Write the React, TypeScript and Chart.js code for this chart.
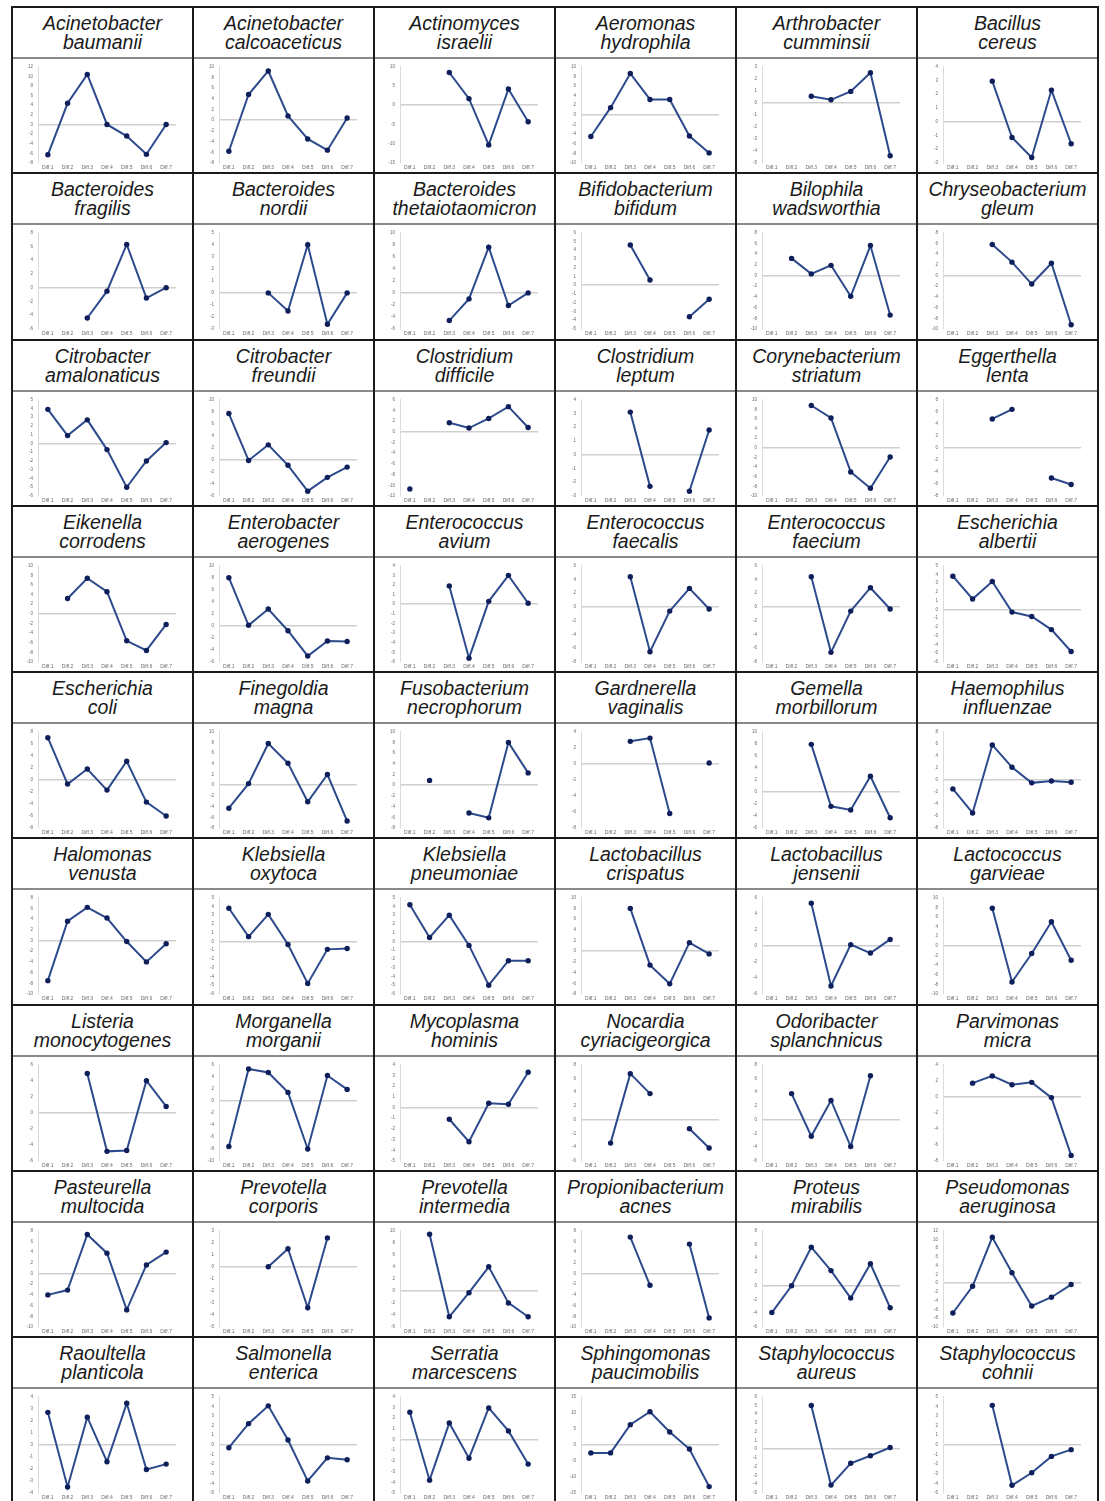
import React, { useEffect, useRef } from 'react';
import { Chart, registerables } from 'chart.js';

Chart.register(...registerables);

const categories = ['Diff.1', 'Diff.2', 'Diff.3', 'Diff.4', 'Diff.5', 'Diff.6', 'Diff.7'];

const genusNames = [
  'Acinetobacter', 'Acinetobacter', 'Actinomyces', 'Aeromonas', 'Arthrobacter', 'Bacillus',
  'Bacteroides', 'Bacteroides', 'Bacteroides', 'Bifidobacterium', 'Bilophila', 'Chryseobacterium',
  'Citrobacter', 'Citrobacter', 'Clostridium', 'Clostridium', 'Corynebacterium', 'Eggerthella',
  'Eikenella', 'Enterobacter', 'Enterococcus', 'Enterococcus', 'Enterococcus', 'Escherichia',
  'Escherichia', 'Finegoldia', 'Fusobacterium', 'Gardnerella', 'Gemella', 'Haemophilus',
  'Halomonas', 'Klebsiella', 'Klebsiella', 'Lactobacillus', 'Lactobacillus', 'Lactococcus',
  'Listeria', 'Morganella', 'Mycoplasma', 'Nocardia', 'Odoribacter', 'Parvimonas',
  'Pasteurella', 'Prevotella', 'Prevotella', 'Propionibacterium', 'Proteus', 'Pseudomonas',
  'Raoultella', 'Salmonella', 'Serratia', 'Sphingomonas', 'Staphylococcus', 'Staphylococcus',
];

const speciesNames = [
  'baumanii', 'calcoaceticus', 'israelii', 'hydrophila', 'cumminsii', 'cereus',
  'fragilis', 'nordii', 'thetaiotaomicron', 'bifidum', 'wadsworthia', 'gleum',
  'amalonaticus', 'freundii', 'difficile', 'leptum', 'striatum', 'lenta',
  'corrodens', 'aerogenes', 'avium', 'faecalis', 'faecium', 'albertii',
  'coli', 'magna', 'necrophorum', 'vaginalis', 'morbillorum', 'influenzae',
  'venusta', 'oxytoca', 'pneumoniae', 'crispatus', 'jensenii', 'garvieae',
  'monocytogenes', 'morganii', 'hominis', 'cyriacigeorgica', 'splanchnicus', 'micra',
  'multocida', 'corporis', 'intermedia', 'acnes', 'mirabilis', 'aeruginosa',
  'planticola', 'enterica', 'marcescens', 'paucimobilis', 'aureus', 'cohnii',
];

const seriesValues: (number | null)[][] = [
  [-6.3, 4.4, 10.4, 0, -2.4, -6.2, 0],
  [-5.8, 4.8, 9.2, 0.8, -3.5, -5.6, 0.4],
  [null, null, 8.5, 1.7, -10.3, 4.2, -4.3],
  [-4.5, 1.5, 8.6, 3.2, 3.2, -4.4, -7.9],
  [null, null, 0.55, 0.25, 0.95, 2.5, -4.4],
  [null, null, 2.95, -1.15, -2.6, 2.3, -1.6],
  [null, null, -4.4, -0.5, 6.3, -1.5, 0],
  [null, null, 0, -1.5, 4.0, -2.6, 0],
  [null, null, -4.6, -1.0, 7.6, -2.1, 0],
  [null, null, 4.6, 0.6, null, -3.6, -1.6],
  [null, 3.2, 0.3, 1.9, -3.9, 5.6, -7.4],
  [null, null, 5.8, 2.5, -1.6, 2.3, -9.2],
  [3.9, 0.9, 2.7, -0.7, -5.0, -2.0, 0.1],
  [7.7, -0.1, 2.5, -0.9, -5.2, -2.9, -1.2],
  [-10.7, null, 1.7, 0.7, 2.5, 4.7, 0.8],
  [null, null, 3.1, -2.3, null, -2.65, 1.8],
  [null, null, 8.8, 6.2, -5.0, -8.4, -1.9],
  [null, null, 4.8, 6.4, null, -5.0, -6.1],
  [null, 3.2, 7.4, 4.6, -5.6, -7.6, -2.2],
  [8.0, 0.1, 2.8, -0.8, -5.0, -2.5, -2.6],
  [null, null, 1.9, -5.6, 0.3, 3.0, 0.1],
  [null, null, 4.4, -6.5, -0.6, 2.7, -0.3],
  [null, null, 4.4, -6.6, -0.6, 2.8, -0.3],
  [3.8, 1.2, 3.2, -0.3, -0.8, -2.3, -4.8],
  [7.0, -0.7, 1.8, -1.7, 3.1, -3.7, -6.0],
  [-4.3, 0.3, 7.8, 4.1, -3.1, 2.0, -6.7],
  [null, 0.9, null, -5.2, -6.1, 8.0, 2.3],
  [null, null, 2.8, 3.2, -6.2, null, 0.1],
  [null, null, 7.9, -2.4, -3.0, 2.6, -4.3],
  [-1.5, -5.5, 5.8, 2.1, -0.5, -0.2, -0.4],
  [-7.5, 3.6, 6.2, 4.2, -0.2, -4.0, -0.6],
  [3.8, 0.55, 3.1, -0.35, -4.8, -0.9, -0.8],
  [4.2, 0.45, 3.0, -0.45, -5.0, -2.2, -2.2],
  [null, null, 8.0, -2.6, -6.1, 1.6, -0.5],
  [null, null, 5.3, -5.0, 0.15, -0.9, 0.8],
  [null, null, 7.8, -7.5, -1.6, 5.0, -3.0],
  [null, null, 4.9, -4.8, -4.7, 4.0, 0.8],
  [-7.6, 5.3, 4.7, 1.4, -8.0, 4.2, 1.9],
  [null, null, -1.1, -3.2, 0.4, 0.3, 3.3],
  [null, -3.4, 6.7, 3.8, null, -1.3, -4.1],
  [null, 3.8, -2.4, 2.8, -3.9, 6.4, null],
  [null, 1.7, 2.6, 1.5, 1.8, -0.1, -7.3],
  [-4.0, -3.1, 7.3, 3.8, -6.8, 1.6, 4.0],
  [null, null, 0, 1.5, -3.4, 2.4, null],
  [null, 9.4, -4.3, -0.3, 4.0, -2.0, -4.3],
  [null, null, 6.8, -2.2, null, 5.5, -8.3],
  [-3.9, 0, 5.6, 2.2, -1.8, 3.2, -3.2],
  [-6.8, -0.7, 10.5, 2.4, -5.2, -3.2, -0.3],
  [2.7, -3.5, 2.3, -1.4, 3.45, -2.05, -1.6],
  [-0.3, 2.2, 4.05, 0.5, -3.75, -1.35, -1.55],
  [2.55, -3.8, 1.55, -1.75, 2.95, 0.8, -2.3],
  [-2.5, -2.5, 6.3, 10.3, 4.0, -1.3, -13],
  [null, null, 5.0, -4.1, -1.6, -0.75, 0.2],
  [null, null, 4.1, -4.2, -2.9, -1.2, -0.5],
];

const yMins = [
  -8, -8, -15, -10, -5, -3,
  -6, -3, -6, -5, -10, -10,
  -6, -6, -12, -3, -10, -8,
  -10, -6, -6, -8, -8, -6,
  -8, -8, -8, -8, -6, -8,
  -10, -6, -6, -8, -6, -10,
  -6, -10, -5, -6, -6, -8,
  -10, -5, -6, -10, -6, -10,
  -4, -5, -5, -15, -5, -5,
];

const yMaxs = [
  12, 10, 10, 10, 3, 4,
  8, 5, 10, 6, 8, 8,
  5, 10, 6, 4, 10, 8,
  10, 10, 4, 6, 6, 5,
  8, 10, 10, 4, 10, 8,
  8, 5, 5, 10, 6, 10,
  6, 6, 4, 8, 8, 4,
  8, 3, 10, 8, 8, 12,
  4, 5, 4, 15, 6, 5,
];

const ySteps = [
  2, 2, 5, 2, 1, 1,
  2, 1, 2, 1, 2, 2,
  1, 2, 2, 1, 2, 2,
  2, 2, 1, 2, 2, 1,
  2, 2, 2, 2, 2, 2,
  2, 1, 1, 2, 2, 2,
  2, 2, 1, 2, 2, 2,
  2, 1, 2, 2, 2, 2,
  1, 1, 1, 5, 1, 1,
];

const COLS = 6;
const ROWS = 9;
const GRID_LEFT = 12;
const GRID_TOP = 7;
const COL_W = 181;
const ROW_H = 166.25;
const TITLE_H = 51;
const CANVAS_W = 179;
const CANVAS_H = 114;

const LINE_COLOR = '#2c4a8c';
const POINT_COLOR = '#0e1f5b';
const FONT = '"Liberation Sans", Arial, sans-serif';

function MiniChart({ index }: { index: number }) {
  const ref = useRef<HTMLCanvasElement | null>(null);
  useEffect(() => {
    if (!ref.current) return;
    const chart = new Chart(ref.current, {
      type: 'line',
      data: {
        labels: categories,
        datasets: [
          {
            data: seriesValues[index],
            borderColor: LINE_COLOR,
            borderWidth: 2,
            pointRadius: 2.7,
            pointBackgroundColor: POINT_COLOR,
            pointBorderColor: POINT_COLOR,
            pointBorderWidth: 0,
            spanGaps: false,
            tension: 0,
          },
        ],
      },
      options: {
        animation: false,
        responsive: false,
        devicePixelRatio: 1,
        layout: { padding: { top: 5, right: 16, left: 0, bottom: 0 } },
        plugins: { legend: { display: false }, tooltip: { enabled: false } },
        scales: {
          x: {
            offset: true,
            grid: { display: false, drawTicks: false },
            border: { display: false },
            ticks: {
              display: true,
              autoSkip: false,
              maxRotation: 0,
              minRotation: 0,
              padding: 2,
              color: '#6a6a6a',
              font: { size: 5, family: FONT },
            },
          },
          y: {
            min: yMins[index],
            max: yMaxs[index],
            grid: {
              drawTicks: false,
              lineWidth: 1.5,
              color: (ctx: any) =>
                ctx.tick && ctx.tick.value === 0 ? '#cfcfcf' : 'rgba(0,0,0,0)',
            },
            border: { display: true, color: '#dcdcdc', width: 1 },
            ticks: {
              stepSize: ySteps[index],
              padding: 5,
              color: '#6a6a6a',
              font: { size: 4.5, family: FONT },
            },
            afterFit: (scale: any) => {
              scale.width = 25;
            },
          },
        },
      } as any,
    });
    return () => chart.destroy();
  }, [index]);
  return <canvas ref={ref} width={CANVAS_W} height={CANVAS_H} style={{ display: 'block', width: CANVAS_W, height: CANVAS_H }} />;
}

export default function App() {
  const cells: React.ReactNode[] = [];
  const lines: React.ReactNode[] = [];

  for (let r = 0; r < ROWS; r++) {
    const rowTop = GRID_TOP + r * ROW_H;
    const sepY = rowTop + TITLE_H;
    for (let c = 0; c < COLS; c++) {
      const idx = r * COLS + c;
      const left = GRID_LEFT + c * COL_W;
      cells.push(
        <div
          key={'t' + idx}
          style={{
            position: 'absolute',
            left,
            top: Math.round(rowTop),
            width: COL_W,
            height: TITLE_H,
            display: 'flex',
            flexDirection: 'column',
            alignItems: 'center',
            justifyContent: 'center',
            fontFamily: FONT,
            fontStyle: 'italic',
            fontSize: '19.5px',
            lineHeight: '19px',
            color: '#1a1a1a',
            textAlign: 'center',
          }}
        >
          <div>{genusNames[idx]}</div>
          <div>{speciesNames[idx]}</div>
        </div>
      );
      cells.push(
        <div
          key={'c' + idx}
          style={{
            position: 'absolute',
            left: left + 1,
            top: Math.round(sepY + 1),
            width: CANVAS_W,
            height: CANVAS_H,
          }}
        >
          <MiniChart index={idx} />
        </div>
      );
    }
    lines.push(
      <div
        key={'hb' + r}
        style={{ position: 'absolute', left: GRID_LEFT - 1, top: Math.round(rowTop) - 1, width: COLS * COL_W + 2, height: 2, background: '#1a1a1a' }}
      />
    );
    lines.push(
      <div
        key={'hs' + r}
        style={{ position: 'absolute', left: GRID_LEFT, top: Math.round(sepY) - 1, width: COLS * COL_W, height: 2, background: '#8a8a8a' }}
      />
    );
  }
  for (let c = 0; c <= COLS; c++) {
    lines.push(
      <div
        key={'v' + c}
        style={{ position: 'absolute', left: GRID_LEFT + c * COL_W - 1, top: GRID_TOP - 1, width: 2, height: 1600, background: '#1a1a1a' }}
      />
    );
  }

  return (
    <div style={{ position: 'absolute', left: 0, top: 0, width: 1105, height: 1501, overflow: 'hidden', background: '#fff' }}>
      {cells}
      {lines}
    </div>
  );
}
